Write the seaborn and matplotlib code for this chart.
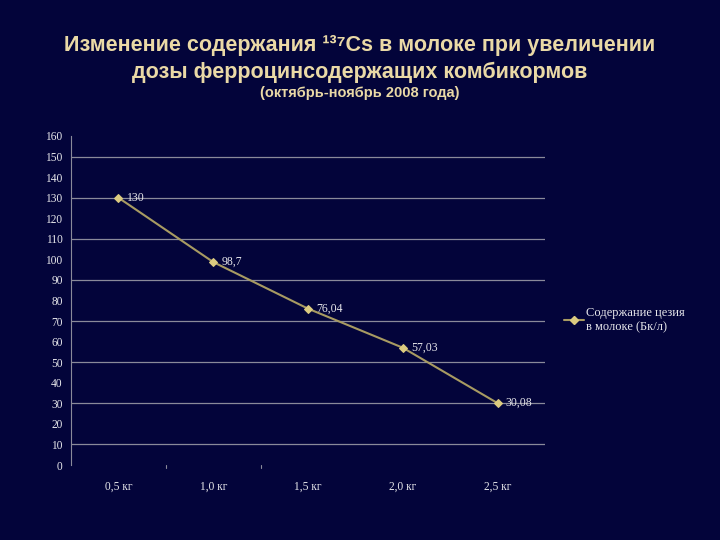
import matplotlib
matplotlib.use("Agg")
import matplotlib.pyplot as plt
import seaborn as sns
import pandas as pd
import numpy as np

categories = ["0,5 кг", "1,0 кг", "1,5 кг", "2,0 кг", "2,5 кг"]
values = [130, 98.7, 76.04, 57.03, 30.08]
value_labels = ["130", "98,7", "76,04", "57,03", "30,08"]
y_ticks = list(range(0, 161, 10))
series_name = "Содержание цезия\nв молоке (Бк/л)"

bg = "#03043a"
line_color = "#a89b62"
marker_color = "#dccb80"
text_color = "#e6e6ea"
title_color = "#ead9a6"
grid_color = "#8a8a9a"

sns.set_theme(style="white")
plt.rcParams['font.family'] = ['Liberation Serif', 'DejaVu Serif']

df = pd.DataFrame({"cat": categories, "val": values, "x": np.arange(len(categories))})

fig = plt.figure(figsize=(7.2, 5.4), dpi=100, facecolor=bg)
ax = fig.add_axes([71/720, 1 - 465/540, 474/720, 329/540])
ax.set_facecolor(bg)

sns.lineplot(data=df, x="x", y="val", ax=ax, color=line_color, linewidth=1.5,
             marker="D", markersize=4, markerfacecolor=marker_color,
             markeredgecolor=marker_color, label=series_name, legend=False)

for xi, v, lab in zip(df["x"], values, value_labels):
    ax.annotate(lab, (xi, v), xytext=(6, 0), textcoords="offset points",
                va="center", ha="left", color=text_color, fontsize=8.5)

ax.set_xlim(-0.5, len(categories) - 0.5)
ax.set_ylim(0, 160)
ax.set_yticks(y_ticks)
ax.set_yticklabels([str(t) for t in y_ticks], color=text_color, fontsize=8.3)
ax.set_xticks(range(len(categories)))
ax.set_xticklabels(categories, color=text_color, fontsize=8.3)
ax.tick_params(axis="x", length=0, pad=11)
ax.tick_params(axis="y", length=0, pad=6)
for yv in range(10, 160, 20):
    ax.axhline(yv, color=grid_color, linewidth=0.9, zorder=0)
for xb in [0.5, 1.5]:
    ax.plot([xb, xb], [-1.5, 0], color=grid_color, linewidth=0.8, clip_on=False)
ax.set_xlabel("")
ax.set_ylabel("")
for s in ["top", "right", "bottom"]:
    ax.spines[s].set_visible(False)
ax.spines["left"].set_color(grid_color)
ax.spines["left"].set_linewidth(0.8)

from matplotlib.lines import Line2D
h = Line2D([0], [0], color=line_color, linewidth=1.5, marker="D", markersize=4,
           markerfacecolor=marker_color, markeredgecolor=marker_color)
leg = fig.legend([h], [series_name], loc="center left", bbox_to_anchor=(553/720, 1 - 320/540),
                 frameon=False, fontsize=9, handlelength=1.6, handletextpad=0.15,
                 labelcolor=text_color)

tfont = ['Liberation Sans', 'DejaVu Sans']
fig.text(0.5, 1 - 46/540, "Изменение содержания ¹³⁷Cs в молоке при увеличении",
         ha="center", va="center", color=title_color, fontsize=15.5, fontweight="bold", family=tfont)
fig.text(0.5, 1 - 72/540, "дозы ферроцинсодержащих комбикормов",
         ha="center", va="center", color=title_color, fontsize=15.5, fontweight="bold", family=tfont)
fig.text(0.5, 1 - 93/540, "(октябрь-ноябрь 2008 года)",
         ha="center", va="center", color=title_color, fontsize=10.5, fontweight="bold", family=tfont)

fig.savefig("out.png", dpi=100, facecolor=bg)
